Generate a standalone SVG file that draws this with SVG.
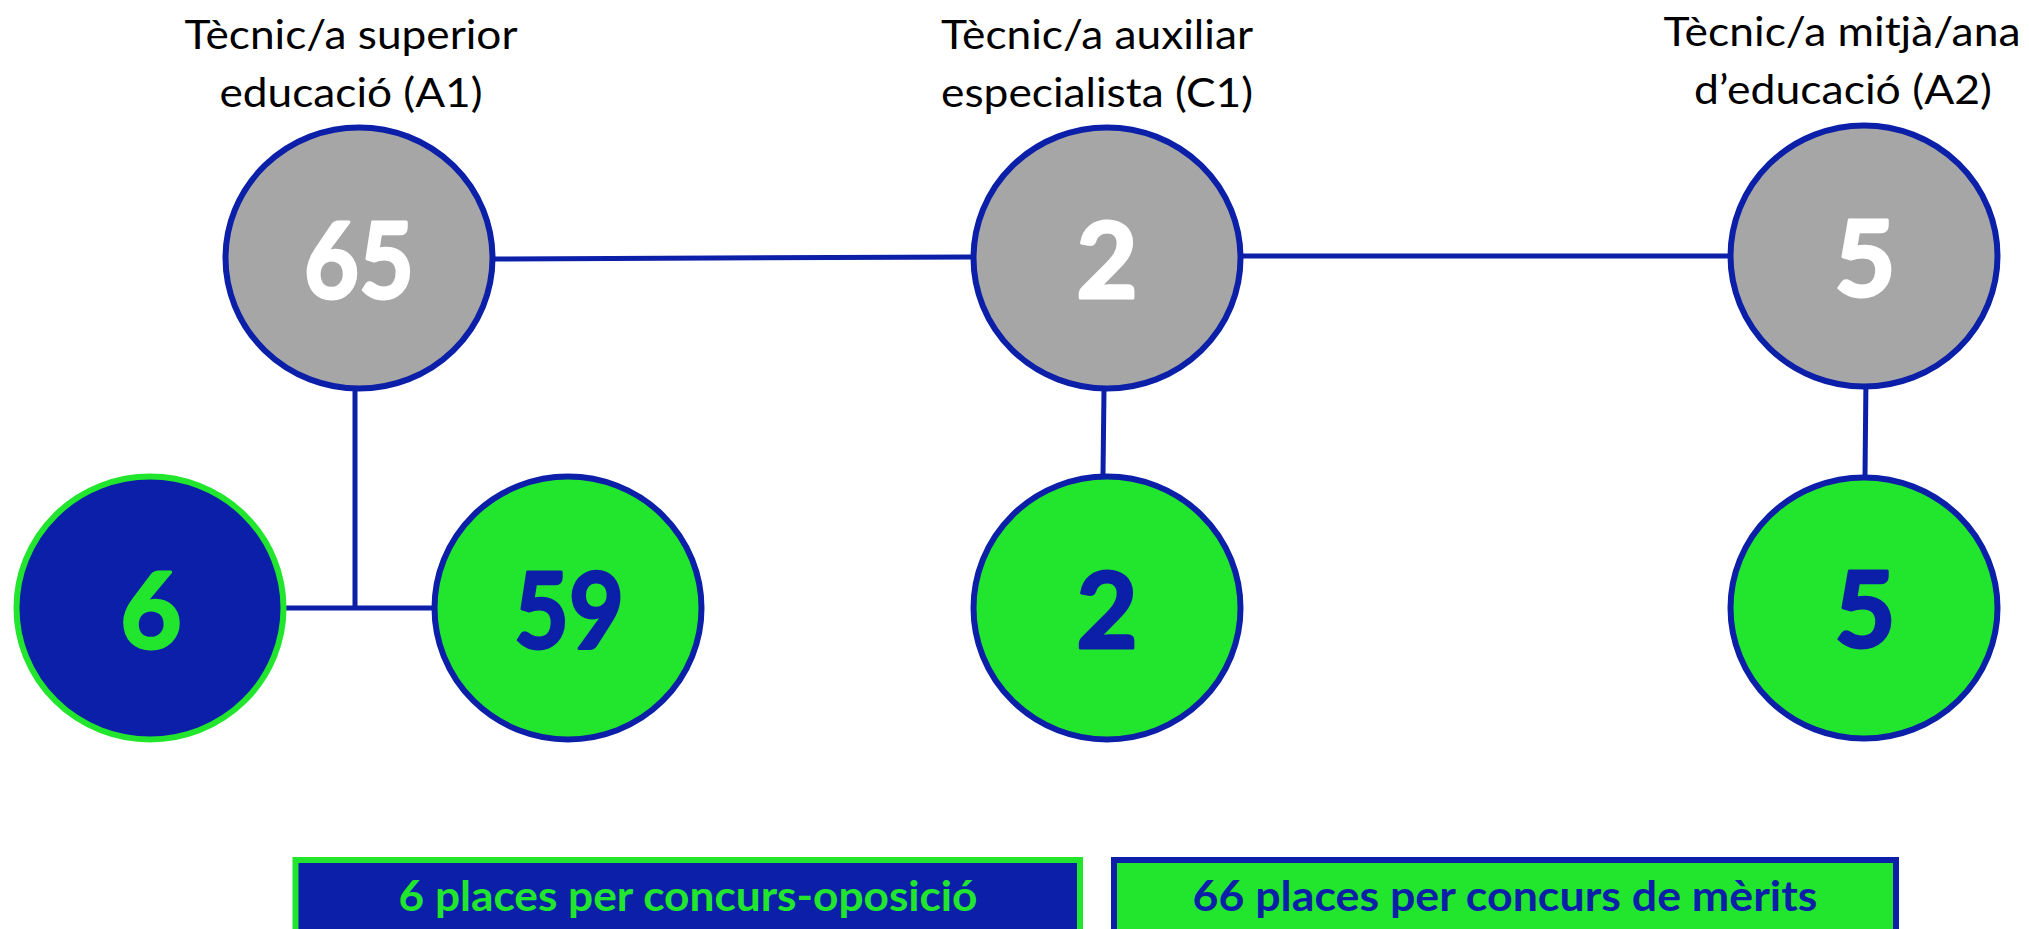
<svg xmlns="http://www.w3.org/2000/svg" width="2029" height="929" viewBox="0 0 2029 929">
<style>
.lbl{font-family:Lato,"Open Sans","Liberation Sans",sans-serif;font-size:41px;fill:#000;text-anchor:middle}
.num{font-family:Lato,"Open Sans","Liberation Sans",sans-serif;font-weight:bold;font-size:106px;text-anchor:middle;stroke-width:3;stroke-linejoin:round}
.w{fill:#ffffff;stroke:#ffffff}
.b{fill:#0c1fa8;stroke:#0c1fa8}
.g{fill:#22e52e;stroke:#22e52e}
.gray{fill:#a6a6a6;stroke:#0c1fa8;stroke-width:6}
.green{fill:#22e52e;stroke:#0c1fa8;stroke-width:6}
.blue{fill:#0c1fa8;stroke:#22e52e;stroke-width:6}
.conn line{stroke:#0c1fa8;stroke-width:5;fill:none}
.leg{font-family:Lato,"Open Sans","Liberation Sans",sans-serif;font-weight:bold;font-size:42px;text-anchor:middle}
.lg{fill:#22e52e}
.lb{fill:#0c1fa8}
</style>
<rect x="0" y="0" width="2029" height="929" fill="#ffffff"/>
<g id="connectors" class="conn">
<line x1="493" y1="259" x2="971" y2="257"/>
<line x1="1243" y1="256" x2="1728" y2="256"/>
<line x1="355" y1="390" x2="355" y2="608"/>
<line x1="286" y1="608" x2="432" y2="608"/>
<line x1="1104" y1="390" x2="1103" y2="474"/>
<line x1="1866" y1="377" x2="1865" y2="476"/>
</g>
<g id="node-a1">
<text class="lbl" x="351" y="49" textLength="333" lengthAdjust="spacingAndGlyphs">Tècnic/a superior</text>
<text class="lbl" x="351" y="107" textLength="263" lengthAdjust="spacingAndGlyphs">educació (A1)</text>
<ellipse class="gray" cx="359" cy="258" rx="133.5" ry="130.5"/>
<text class="num w" x="359" y="298" textLength="110" lengthAdjust="spacingAndGlyphs">65</text>
</g>
<g id="node-a1-oposicio">
<ellipse class="blue" cx="150" cy="608" rx="133.5" ry="131.5"/>
<text class="num g" x="151" y="648">6</text>
</g>
<g id="node-a1-merits">
<ellipse class="green" cx="568" cy="608" rx="133.5" ry="131.5"/>
<text class="num b" x="569" y="648" textLength="110" lengthAdjust="spacingAndGlyphs">59</text>
</g>
<g id="node-c1">
<text class="lbl" x="1097" y="49" textLength="312" lengthAdjust="spacingAndGlyphs">Tècnic/a auxiliar</text>
<text class="lbl" x="1097" y="107" textLength="312" lengthAdjust="spacingAndGlyphs">especialista (C1)</text>
<ellipse class="gray" cx="1107" cy="258" rx="133.5" ry="130.5"/>
<text class="num w" x="1107" y="298">2</text>
</g>
<g id="node-c1-merits">
<ellipse class="green" cx="1107" cy="608" rx="133.5" ry="131.5"/>
<text class="num b" x="1107" y="648">2</text>
</g>
<g id="node-a2">
<text class="lbl" x="1842" y="46" textLength="357" lengthAdjust="spacingAndGlyphs">Tècnic/a mitjà/ana</text>
<text class="lbl" x="1843" y="104" textLength="298" lengthAdjust="spacingAndGlyphs">d’educació (A2)</text>
<ellipse class="gray" cx="1864" cy="256" rx="133.5" ry="130.5"/>
<text class="num w" x="1865" y="296">5</text>
</g>
<g id="node-a2-merits">
<ellipse class="green" cx="1864" cy="608" rx="133.5" ry="130.5"/>
<text class="num b" x="1865" y="647">5</text>
</g>
<g id="legend-oposicio">
<rect x="295.5" y="860" width="784.5" height="120" fill="#0c1fa8" stroke="#22e52e" stroke-width="6"/>
<text class="leg lg" x="688" y="911" textLength="579" lengthAdjust="spacingAndGlyphs">6 places per concurs-oposició</text>
</g>
<g id="legend-merits">
<rect x="1114" y="860" width="782" height="120" fill="#22e52e" stroke="#0c1fa8" stroke-width="6"/>
<text class="leg lb" x="1505" y="911" textLength="625" lengthAdjust="spacingAndGlyphs">66 places per concurs de mèrits</text>
</g>
</svg>
